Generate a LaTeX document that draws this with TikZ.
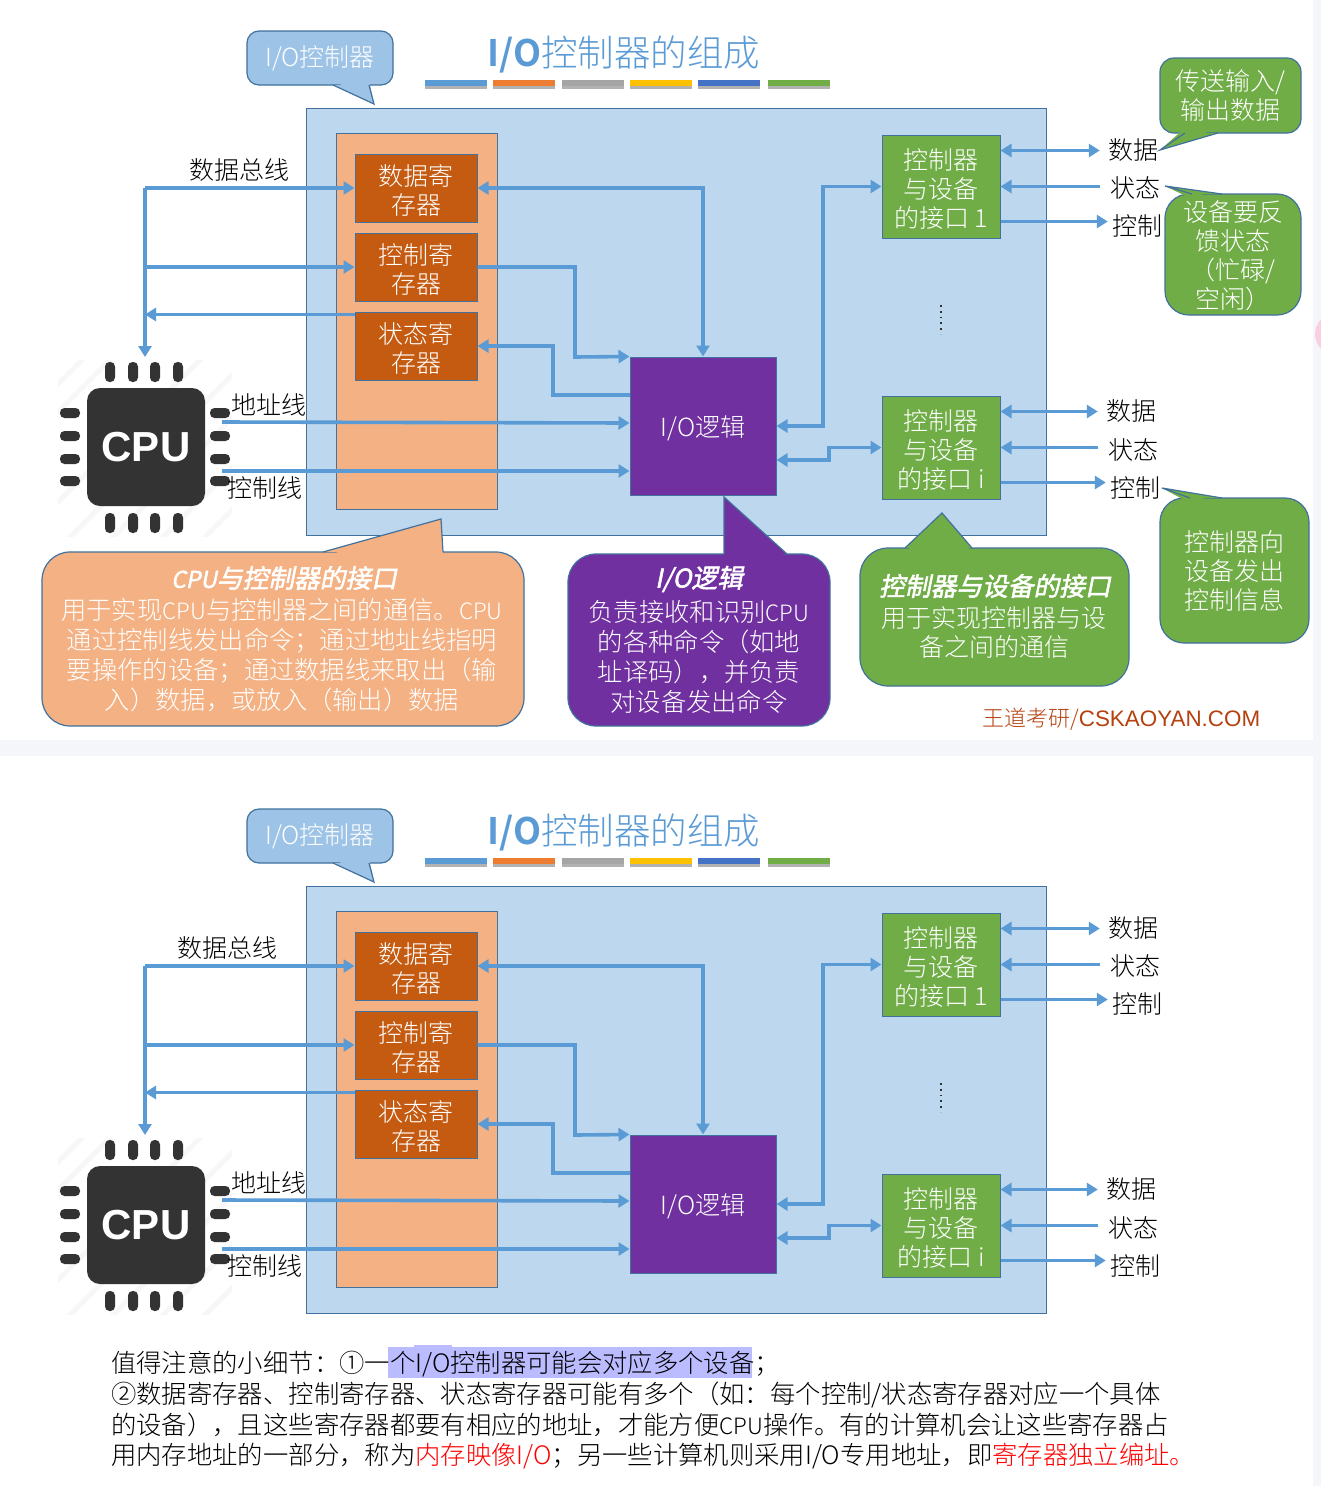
\documentclass[tikz,border=0pt]{standalone}
\usepackage{fontspec}
\setmainfont{Noto Sans CJK SC Light}[BoldFont=Noto Sans CJK SC Bold]
\newfontfamily\slantbold[FakeSlant=0.2,FakeBold=2]{Noto Sans CJK SC}
\newfontfamily\latinsans{Liberation Sans}
\usetikzlibrary{arrows.meta,calc}
\definecolor{cborder}{HTML}{41719C}
\definecolor{cline}{HTML}{5B9BD5}
\definecolor{cblue}{HTML}{BDD7EE}
\definecolor{cpeach}{HTML}{F4B183}
\definecolor{crust}{HTML}{C55A11}
\definecolor{cpurple}{HTML}{7030A0}
\definecolor{cgreen}{HTML}{70AD47}
\definecolor{ccall}{HTML}{9DC3E6}
\definecolor{cband}{HTML}{F5F6FA}
\definecolor{cchip}{HTML}{333333}
\definecolor{cmark}{HTML}{BBBBFF}
\definecolor{cwater}{HTML}{B5410F}
\definecolor{cpink}{HTML}{FAD0E0}
\newcommand\tp[1]{\rule{0pt}{#1pt}}
\newcommand\cpuword{{\fontsize{22.5}{29}\selectfont CPU}}
\tikzset{
  txt/.style={font=\fontsize{25}{29}\selectfont,inner sep=0pt,align=center},
  white text/.style={txt,text=white},
  wide text/.style={white text,font=\fontsize{25.3}{30}\selectfont},
  note text/.style={txt,anchor=base west,font=\fontsize{25.35}{29}\selectfont},
  boxstyle/.style={draw=cborder,line width=1pt},
  regbox/.style={boxstyle,fill=crust,white text,minimum width=122pt,minimum height=68pt},
  ifbox/.style={boxstyle,fill=cgreen,white text,minimum width=118pt,minimum height=103pt},
  logicbox/.style={boxstyle,fill=cpurple,white text,minimum width=146pt,minimum height=138pt},
  bus/.style={draw=cline,line width=3.6pt},
  busarrow/.style={bus,-{Triangle[length=11pt,width=13pt]}},
  bibus/.style={bus,{Triangle[length=11pt,width=13pt]}-{Triangle[length=11pt,width=13pt]}},
  callshape/.style={draw=cborder,line width=1.2pt},
  pin/.style={fill=cchip,rounded corners=4.5pt},
  bar/.style={minimum width=62pt,minimum height=6pt,inner sep=0pt},
  headline/.style={font=\slantbold\fontsize{25.7}{29}\selectfont,text=white,inner sep=0pt}
}
% rounded body of a callout: style x0 y0 x1 y1 r
\newcommand\bodyrect[6]{%
  \draw[callshape,#1,rounded corners=#6] (#2,#3) rectangle (#4,#5);
}
% tail of a callout: colour baseL baseY baseR tipx tipy interiorY
\newcommand\calltail[7]{%
  \fill[#1] (#2,#7) -- (#4,#7) -- (#5,#6) -- cycle;
  \fill[#1] (#2,#3) -- (#4,#3) -- (#5,#6) -- cycle;
  \draw[callshape] (#2,#3) -- (#5,#6) -- (#4,#3);
}
\newcommand\iodiagram[3]{%
\begin{scope}[shift={(0,#1)}]
  % title
  \node[inner sep=0pt,font=\fontsize{36.5}{40}\selectfont,text=cline] (#2title) at (624,54) {\textbf{I/O}控制器的组成};
  \foreach \xx/\cc in {456/5B9BD5,523.5/ED7D31,593/A5A5A5,661/FFC000,729/4472C4,799/70AD47}{
    \definecolor{tmpc}{HTML}{\cc}
    \fill[black,opacity=.3] (\xx-31,81) rectangle (\xx+31,88.5);
    \node[bar,fill=tmpc] at (\xx,83) {};
  }
  % I/O controller callout
  \bodyrect{fill=ccall}{247}{31}{393}{85}{12}
  \calltail{ccall}{333}{85}{369}{374}{104}{80}
  \node[white text] (#2callio) at (320,58) {I/O控制器};
  % big boxes
  \node[boxstyle,fill=cblue,minimum width=740pt,minimum height=427pt,inner sep=0pt] (#2ctrl) at (676,321.5) {};
  \node[boxstyle,fill=cpeach,minimum width=161pt,minimum height=376pt,inner sep=0pt] (#2cpuif) at (416.5,321) {};
  % registers
  \node[regbox] (#2reg1) at (416,188) {\tp{25.5}数据寄\\存器};
  \node[regbox] (#2reg2) at (416,267) {\tp{25.5}控制寄\\存器};
  \node[regbox] (#2reg3) at (416,346) {\tp{25.5}状态寄\\存器};
  \node[logicbox] (#2logic) at (703,426) {\tp{26}I/O逻辑};
  \node[ifbox] (#2if1) at (941,186.5) {\tp{25}控制器\\与设备\\的接口 1};
  \node[ifbox] (#2ifi) at (941,447.5) {\tp{25}控制器\\与设备\\的接口 i};
  % dots
  \draw[black!80,line width=1.6pt,dash pattern=on 1.8pt off 4pt] (941,305) -- (941,334);
  % CPU
  \begin{scope}
    \clip (58,360) rectangle (232,536);
    \foreach \ss in {442,470,560,607,650,700,742}{
      \draw[black!3,line width=5pt] (\ss-540,540) -- (\ss-350,350);
    }
  \end{scope}
  \foreach \xx in {110,133,155,178}{
    \fill[pin] (\xx-5,362) rectangle (\xx+5,382);
    \fill[pin] (\xx-5,513) rectangle (\xx+5,533);
  }
  \foreach \yy in {413,436,459,481}{
    \fill[pin] (60,\yy-5) rectangle (80,\yy+5);
    \fill[pin] (210,\yy-5) rectangle (230,\yy+5);
  }
  \node[fill=cchip,rounded corners=13pt,minimum width=118pt,minimum height=118pt,inner sep=0pt,text=white,font=\latinsans\bfseries\fontsize{42}{44}\selectfont] (#2cpu) at (146,447) {\raisebox{-4pt}{CPU}};
  % labels
  \node[txt] (#2lbus) at (#3,170) {数据总线};
  \node[txt] (#2laddr) at (269,405) {地址线};
  \node[txt] (#2lctl) at (265,488) {控制线};
  \node[txt] (#2ld1) at (1133,150) {数据};
  \node[txt] (#2ls1) at (1135,188) {状态};
  \node[txt] (#2lc1) at (1137,226) {控制};
  \node[txt] (#2ld2) at (1131,411) {数据};
  \node[txt] (#2ls2) at (1133,450) {状态};
  \node[txt] (#2lc2) at (1135,488) {控制};
  % free ends
  \coordinate (#2bustop) at (145,188);
  \coordinate (#2busmid) at (145,267);
  \coordinate (#2busret) at (145,314.5);
  \coordinate (#2addr) at (222,422);
  \coordinate (#2ctl) at (222,471);
  % connectors
  \draw[bus] (#2bustop) -- (#2busret);
  \draw[busarrow] (#2busret) -- (145,357);
  \draw[busarrow] (#2bustop) -- (#2reg1.west);
  \draw[busarrow] (#2busmid) -- (#2reg2.west);
  \draw[busarrow] (#2reg3.north west |- #2busret) -- (#2busret);
  \draw[bibus] (#2reg1.east) -- (#2logic.north |- #2reg1.east) -- (#2logic.north);
  \draw[busarrow] (#2reg2.east) -- (575,267) -- (575,357) -- (#2logic.north west);
  \draw[busarrow] ($(#2logic.west)+(0,-31)$) -- (553,395) -- (553,346) -- (#2reg3.east);
  \draw[busarrow] (#2addr) -- ($(#2logic.west)+(0,-3)$);
  \draw[busarrow] (#2ctl) -- ($(#2logic.west)+(0,45)$);
  \draw[bibus] (#2logic.east) -- (823,426) -- (823,186.5) -- (#2if1.west);
  \draw[bibus] ($(#2logic.east)+(0,34)$) -- (829,460) -- (829,447.5) -- (#2ifi.west);
  \draw[bibus,shorten >=8pt] ($(#2if1.east)+(0,-36)$) -- (#2ld1.west |- 0,150.5);
  \draw[busarrow] (#2ls1.west |- #2if1.east) ++(-10,0) -- (#2if1.east);
  \draw[busarrow,shorten >=4pt] ($(#2if1.east)+(0,35)$) -- (#2lc1.west |- 0,221.5);
  \draw[bibus,shorten >=8pt] ($(#2ifi.east)+(0,-36)$) -- (#2ld2.west |- 0,411.5);
  \draw[busarrow] (#2ls2.west |- #2ifi.east) ++(-10,0) -- (#2ifi.east);
  \draw[busarrow,shorten >=4pt] ($(#2ifi.east)+(0,35)$) -- (#2lc2.west |- 0,482.5);
\end{scope}
}
\begin{document}
\begin{tikzpicture}[x=1pt,y=-1pt]
\useasboundingbox (0,0) rectangle (1321,1486);
\fill[white] (0,0) rectangle (1321,1486);
\fill[cband] (0,740) rectangle (1321,756);
\fill[cband] (1313,0) rectangle (1321,1486);
\begin{scope}
  \clip (1313,300) rectangle (1321,360);
  \fill[cpink] (1336,334) circle (21);
\end{scope}
\iodiagram{0}{a}{239}
\iodiagram{778}{b}{227}
% green callouts, top diagram
\bodyrect{fill=cgreen}{1160}{58}{1301}{133}{14}
\calltail{cgreen}{1185}{133}{1218}{1160}{150}{128}
\node[white text] (note1) at (1230,96) {传送输入/\\输出数据};
\bodyrect{fill=cgreen}{1165}{194}{1301}{315}{24}
\calltail{cgreen}{1192}{194}{1222}{1165}{186}{199}
\node[white text] (note2) at (1233,255.5) {设备要反\\馈状态\\（忙碌/\\空闲）};
\bodyrect{fill=cgreen}{1160}{498}{1309}{643}{24}
\calltail{cgreen}{1190}{498}{1222}{1162}{488}{503}
\node[white text] (note3) at (1234,571) {控制器向\\设备发出\\控制信息};
% big explanatory callouts
\bodyrect{fill=cpeach}{42}{552}{524}{726}{28}
\calltail{cpeach}{323}{552}{443}{441}{519}{557}
\node[headline] (h1) at (284,578) {{\slantbold\fontsize{23}{29}\selectfont CPU}与控制器的接口};
\node[wide text] (b1) at (282,655.5) {用于实现\cpuword{}与控制器之间的通信。\cpuword{}\\通过控制线发出命令；通过地址线指明\\要操作的设备；通过数据线来取出（输\\入）数据，或放入（输出）数据};
\bodyrect{fill=cpurple}{568}{554}{830}{726}{28}
\calltail{cpurple}{724}{554}{787}{724}{497}{559}
\node[headline] (h2) at (699,579) {I/O逻辑};
\node[wide text] (b2) at (699,657) {负责接收和识别\cpuword{}\\的各种命令（如地\\址译码），并负责\\对设备发出命令};
\bodyrect{fill=cgreen}{860}{548}{1129}{686}{28}
\calltail{cgreen}{905}{548}{972}{942}{513}{553}
\node[headline] (h3) at (995,586) {控制器与设备的接口};
\node[white text] (b3) at (994,632) {用于实现控制器与设\\备之间的通信};
\node[inner sep=0pt,text=cwater,font=\fontsize{22}{24}\selectfont,anchor=base west] (wm) at (982,726) {王道考研/{\latinsans\fontsize{22.4}{24}\selectfont CSKAOYAN.COM}};
% note text
\fill[cmark] (388,1347) rectangle (752,1378);
\fill[cmark] (414,1345) rectangle (452,1347);
\node[note text] (n1) at (111,1372) {值得注意的小细节：①一个I/O控制器可能会对应多个设备；};
\node[note text] (n2) at (111,1403) {②数据寄存器、控制寄存器、状态寄存器可能有多个（如：每个控制/状态寄存器对应一个具体};
\node[note text] (n3) at (111,1434) {的设备），且这些寄存器都要有相应的地址，才能方便\cpuword{}操作。有的计算机会让这些寄存器占};
\node[note text] (n4) at (111,1464) {用内存地址的一部分，称为\textcolor{red}{内存映像I/O}；另一些计算机则采用I/O专用地址，即\textcolor{red}{寄存器独立编址。}};
\end{tikzpicture}
\end{document}
